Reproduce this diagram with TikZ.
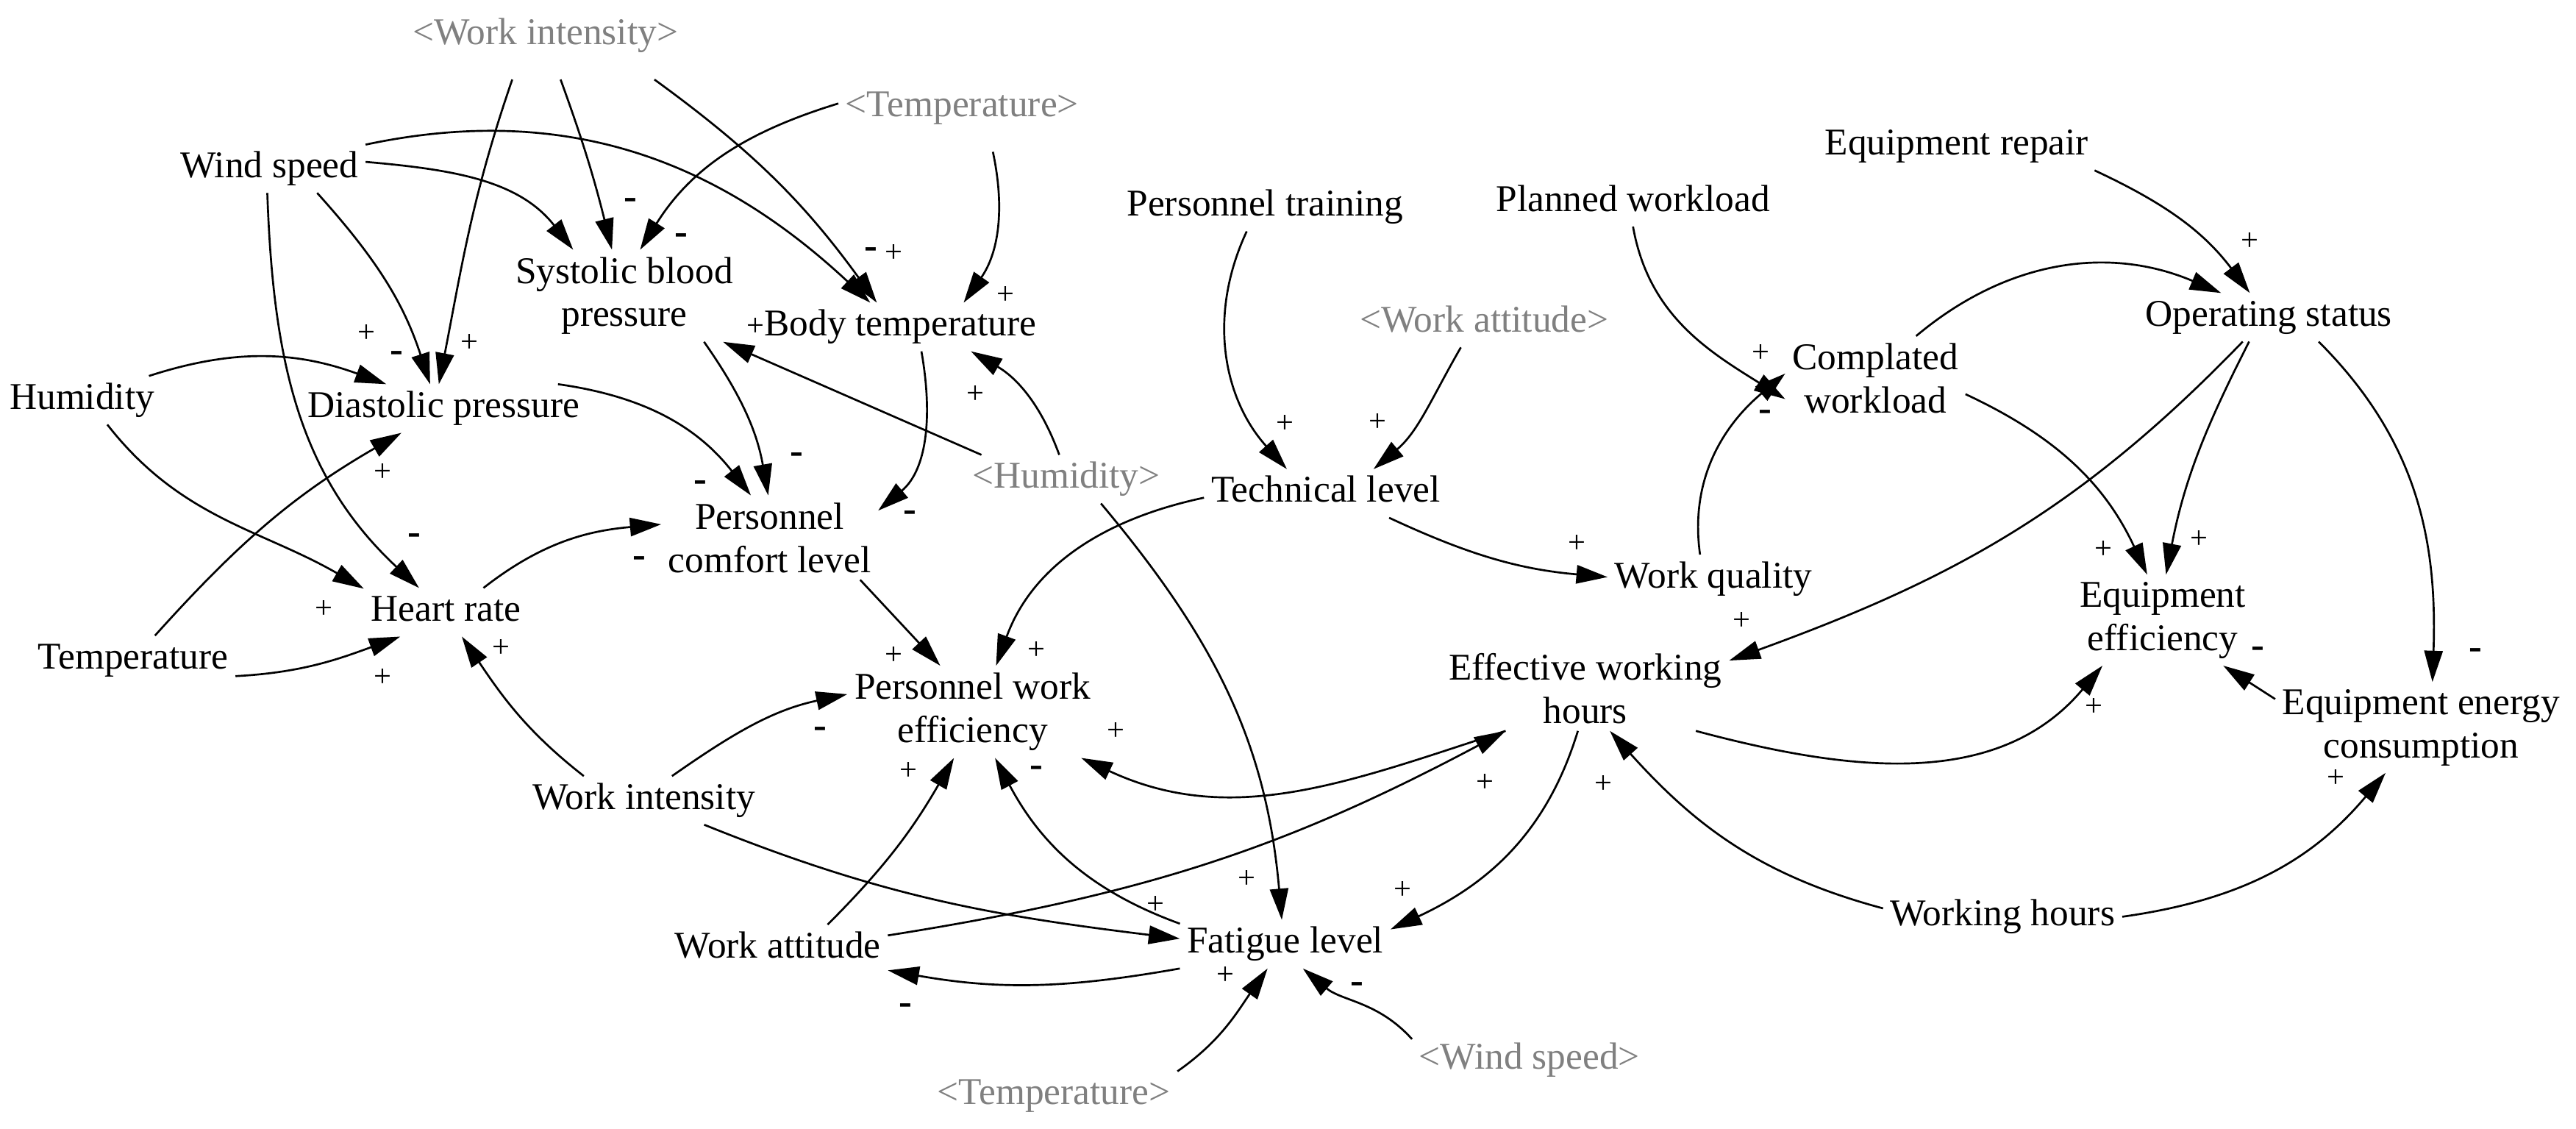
\documentclass[tikz,border=0pt]{standalone}
\usepackage{fontspec}
\setmainfont{Liberation Serif}
\usetikzlibrary{arrows.meta}
\definecolor{ghost}{HTML}{808080}
\tikzset{
  var/.style={font=\fontsize{11.5}{13.2}\selectfont, inner sep=2pt, text height=7.9pt, text depth=2.5pt, anchor=base},
  var2/.style={font=\fontsize{11.5}{13.2}\selectfont, inner sep=2pt, align=center},
  shadow/.style={var, text=ghost},
  link/.style={-{Triangle[length=9.5pt,width=5.6pt]}, line width=0.6pt},
  pol/.style={font=\fontsize{9.5}{9.5}\selectfont, inner sep=0pt},
  neg/.style={font=\fontsize{12}{12}\selectfont\bfseries, inner sep=0pt},
}

\begin{document}
\begin{tikzpicture}[x=0.5pt, y=0.5pt]
  \useasboundingbox (0,0) rectangle (1568,-687);

  \node[shadow, inner ysep=8pt] (wiG) at (332,-27) {<Work intensity>};
  \node[var] (ws) at (164,-108) {Wind speed};
  \node[shadow, inner ysep=8pt] (tmpG1) at (585.6,-71) {<Temperature>};
  \node[var] (ptr) at (770,-131.4) {Personnel training};
  \node[var] (pwl) at (994,-128.5) {Planned workload};
  \node[var] (erp) at (1191,-94.3) {Equipment repair};
  \node[var2] (sbp) at (380,-180) {Systolic blood\\pressure};
  \node[var] (bt) at (548,-204.4) {Body temperature};
  \node[var] (ops) at (1381,-198.5) {Operating status};
  \node[shadow] (waG) at (903.5,-202) {<Work attitude>};
  \node[var2] (cwl) at (1141.5,-230.2) {Complated\\workload};
  \node[var] (hum) at (50,-249) {Humidity};
  \node[var] (dia) at (270,-254) {Diastolic pressure};
  \node[shadow] (humG) at (649,-297) {<Humidity>};
  \node[var] (tl) at (807,-305.7) {Technical level};
  \node[var2] (pcl) at (468.5,-327.2) {Personnel\\comfort level};
  \node[var] (wq) at (1043,-357.7) {Work quality};
  \node[var] (hr) at (271.5,-378) {Heart rate};
  \node[var2] (eef) at (1316.5,-377.4) {Equipment\\efficiency};
  \node[var] (temp) at (81,-407) {Temperature};
  \node[var2] (ewh) at (965,-419) {Effective working\\hours};
  \node[var2] (pwe) at (592,-433.2) {Personnel work\\efficiency};
  \node[var2] (eec) at (1473.7,-442.7) {Equipment energy\\consumption};
  \node[var] (wi) at (392,-492.5) {Work intensity};
  \node[var] (whr) at (1219,-563.3) {Working hours};
  \node[var] (fl) at (782.3,-580) {Fatigue level};
  \node[var] (wa) at (473.4,-582.9) {Work attitude};
  \node[shadow] (wsG) at (931,-650.4) {<Wind speed>};
  \node[shadow] (tmpG2) at (641.4,-672) {<Temperature>};

  \draw[link] (wiG.233) to[out=251,in=79] (dia.101);
  \draw[link] (wiG.289) to[out=290,in=104] (sbp.105);
  \draw[link] (wiG.338) to[out=324,in=126] (bt.134);
  \draw[link] (ws.14) to[out=12,in=137] (bt.141);
  \draw[link] (ws.4) to[out=355,in=128] (sbp.138);
  \draw[link] (ws.333) to[out=312,in=108] (dia.119);
  \draw[link] (ws.265) to[out=272,in=137] (hr.138);
  \draw[link] (tmpG1.178) to[out=197,in=58] (sbp.71);
  \draw[link] (tmpG1.305) to[out=282,in=55] (bt.21);
  \draw[link] (hum.20) to[out=18,in=160] (dia.157);
  \draw[link] (hum.316) to[out=308,in=150] (hr.164);
  \draw[link] (temp.48) to[out=48,in=210] (dia.210);
  \draw[link] (temp.351) to[out=3,in=200] (hr.208);
  \draw[link] (wi.158) to[out=142,in=304] (hr.303);
  \draw[link] (dia.12) to[out=352,in=128] (pcl.114);
  \draw[link] (sbp.330) to[out=305,in=100] (pcl.92);
  \draw[link] (hr.33) to[out=38,in=185] (pcl.173);
  \draw[link] (humG.164) -- (sbp.335);
  \draw[link] (humG.106) to[out=110,in=330] (bt.341);
  \draw[link] (bt.311) to[out=280,in=40] (pcl.14);
  \draw[link] (pcl.335) -- (pwe.125);
  \draw[link] (tl.182) to[out=192,in=70] (pwe.63);
  \draw[link] (ptr.233) to[out=245,in=132] (tl.148);
  \draw[link] (waG.226) to[out=240,in=40] (tl.27);
  \draw[link] (tl.339) to[out=335,in=175] (wq.179);
  \draw[link] (pwl.270) to[out=280,in=148] (cwl.193);
  \draw[link] (wq.119) to[out=98,in=220] (cwl.177);
  \draw[link] (erp.350) to[out=335,in=127] (ops.128);
  \draw[link] (cwl.46) to[out=40,in=157] (ops.153);
  \draw[link] (ops.223) to[out=226,in=20] (ewh.11);
  \draw[link] (ops.231) to[out=243,in=79] (eef.86);
  \draw[link] (cwl.350) to[out=335,in=115] (eef.109);
  \draw[link] (ops.334) to[out=315,in=88] (eec.76);
  \draw[link] (ewh.339) to[out=345,in=230] (eef.217);
  \draw[link] (eec.169) -- (eef.323);
  \draw[link] (whr.176) to[out=165,in=312] (ewh.300);
  \draw[link] (whr.0) to[out=8,in=230] (eec.232);
  \draw[link] (ewh.208) to[out=198,in=335] (pwe.337);
  \draw[link] (wa.7) to[out=9,in=208] (ewh.208);
  \draw[link] (wi.41) to[out=35,in=192] (pwe.172);
  \draw[link] (wa.26) to[out=45,in=240] (pwe.248);
  \draw[link] (fl.169) to[out=160,in=298] (pwe.296);
  \draw[link] (wi.338) to[out=338,in=173] (fl.177);
  \draw[link] (humG.325) to[out=310,in=95] (fl.98);
  \draw[link] (ewh.260) to[out=253,in=25] (fl.8);
  \draw[link] (fl.193) to[out=190,in=350] (wa.349);
  \draw[link] (tmpG2.11) to[out=35,in=235] (fl.234);
  \draw[link] (wsG.170) to[out=132,in=320] (fl.306);

  \node[pol] at (223,-203) {+};
  \node[neg] at (241.5,-217) {-};
  \node[pol] at (286,-209) {+};
  \node[neg] at (384,-124) {-};
  \node[neg] at (414.5,-145.5) {-};
  \node[neg] at (530,-154) {-};
  \node[pol] at (544,-154) {+};
  \node[pol] at (612.3,-179.7) {+};
  \node[pol] at (460,-199) {+};
  \node[pol] at (593.6,-240) {+};
  \node[pol] at (233,-287.7) {+};
  \node[neg] at (252,-328) {-};
  \node[pol] at (197,-371) {+};
  \node[pol] at (233,-412.4) {+};
  \node[pol] at (305,-394.6) {+};
  \node[neg] at (426.5,-296) {-};
  \node[neg] at (485,-279) {-};
  \node[neg] at (389,-342) {-};
  \node[neg] at (554,-314.3) {-};
  \node[pol] at (544,-399) {+};
  \node[pol] at (631,-396) {+};
  \node[neg] at (499.4,-446) {-};
  \node[pol] at (679.4,-445) {+};
  \node[pol] at (553.2,-469.5) {+};
  \node[neg] at (631,-469.5) {-};
  \node[pol] at (782,-258) {+};
  \node[pol] at (838.5,-257) {+};
  \node[pol] at (960,-331) {+};
  \node[pol] at (1072,-215) {+};
  \node[neg] at (1074.3,-252.9) {-};
  \node[pol] at (1369.5,-147) {+};
  \node[pol] at (1280.4,-334.5) {+};
  \node[pol] at (1338.5,-328.5) {+};
  \node[neg] at (1374.5,-397) {-};
  \node[neg] at (1506.7,-398) {-};
  \node[pol] at (1060,-378.2) {+};
  \node[pol] at (1274.4,-430.4) {+};
  \node[pol] at (976,-477.3) {+};
  \node[pol] at (1422,-474) {+};
  \node[pol] at (904,-476.3) {+};
  \node[pol] at (759,-535) {+};
  \node[pol] at (853.8,-541.8) {+};
  \node[pol] at (703.5,-550.6) {+};
  \node[neg] at (551.3,-614) {-};
  \node[pol] at (746,-593.6) {+};
  \node[neg] at (826,-601) {-};
\end{tikzpicture}
\end{document}
